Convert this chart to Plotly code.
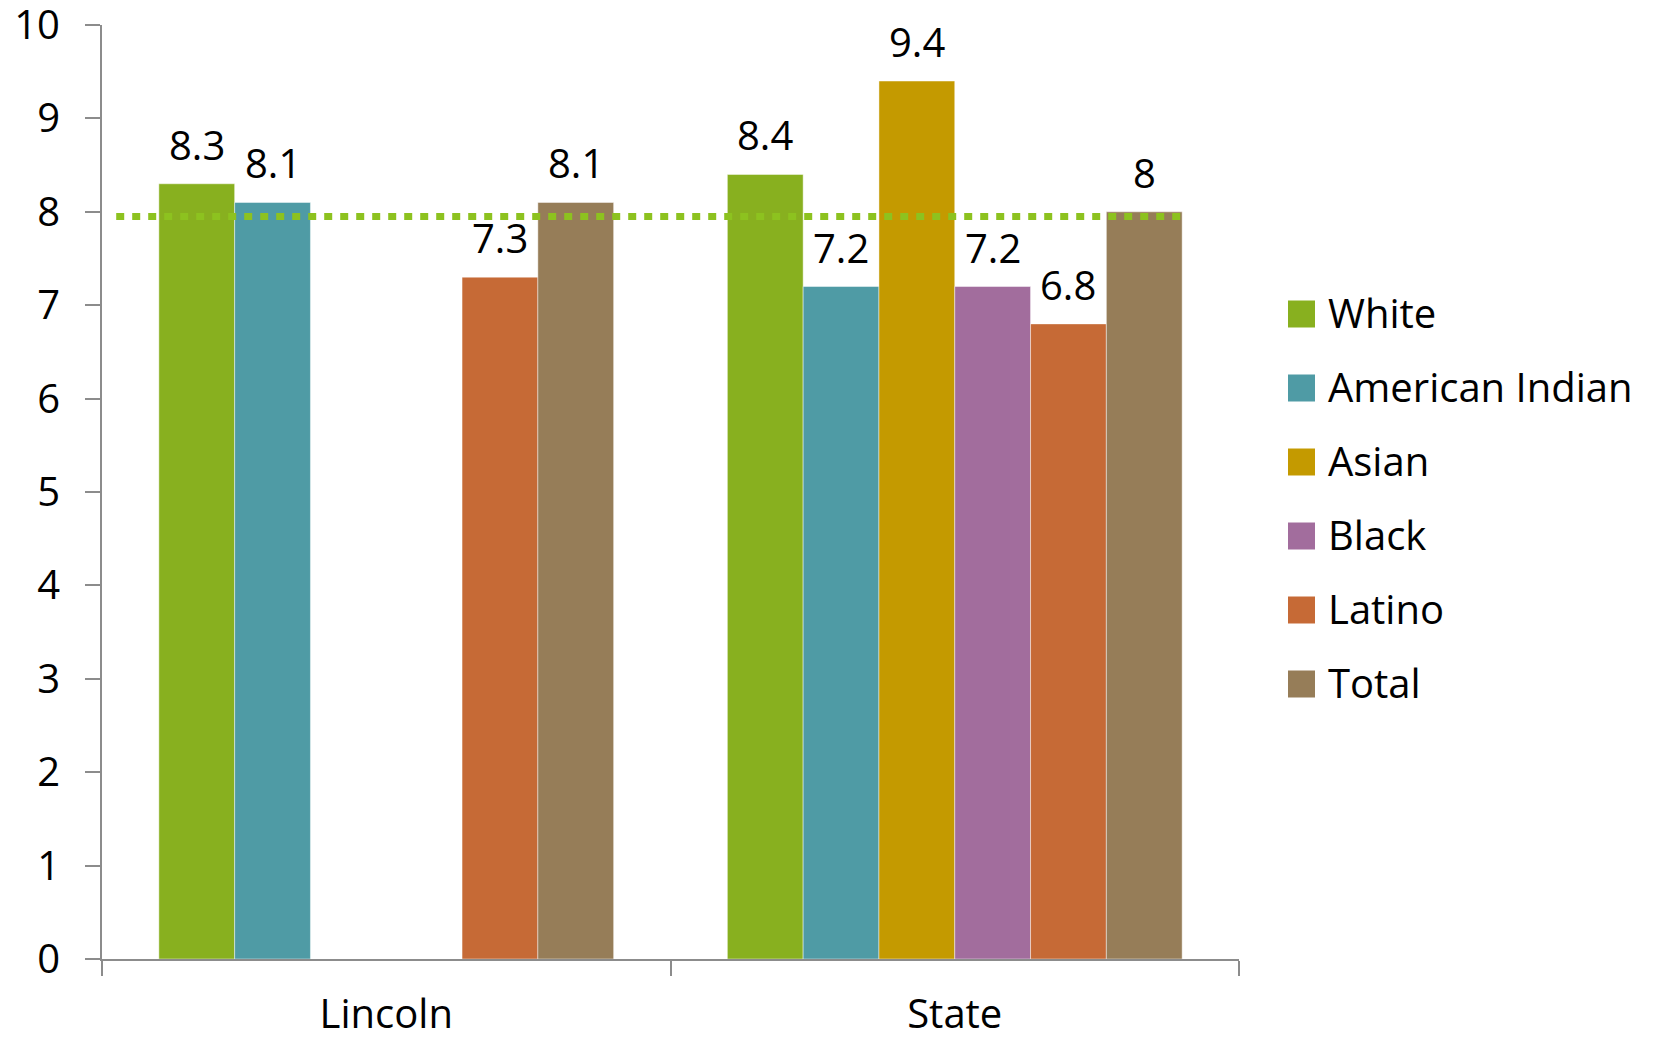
import plotly.graph_objects as go

# ---------------- data ----------------
categories = ["Lincoln", "State"]
series_names = ["White", "American Indian", "Asian", "Black", "Latino", "Total"]
white = [8.3, 8.4]
american_indian = [8.1, 7.2]
asian = [None, 9.4]
black = [None, 7.2]
latino = [7.3, 6.8]
total = [8.1, 8.0]
series_values = [white, american_indian, asian, black, latino, total]
benchmark_value = 7.95
y_tick_values = list(range(0, 11))

# ---------------- style ----------------
colors = ["#88B01F", "#4F9BA5", "#C49A00", "#A26D9D", "#C66A36", "#967D58"]
bench_color = "#8DC21F"
FONT = "Open Sans"
FS = 40
W, H = 1656, 1038
ML, MR, MT, MB = 102, 417, 25, 79
BARGAP = 0.2

fig = go.Figure()
for name, vals, col in zip(series_names, series_values, colors):
    fig.add_trace(go.Bar(
        name=name, x=categories, y=vals,
        marker=dict(color=col, line=dict(color="rgba(255,255,255,0.45)", width=1)),
        showlegend=False, hoverinfo="x+y+name",
    ))

# data labels above each bar (group offsets derived from bargap / trace count)
n = len(series_names)
bw = (1 - BARGAP) / n
annotations = []
for i, vals in enumerate(series_values):
    off = (i - (n - 1) / 2) * bw
    for ci, v in enumerate(vals):
        if v is None:
            continue
        annotations.append(dict(
            x=ci + off, y=v, xref="x", yref="y", text=f"{v:g}",
            showarrow=False, yanchor="bottom", xanchor="center", yshift=10,
            font=dict(family=FONT, size=FS, color="#000000"),
        ))

# benchmark dotted line
shapes = [dict(
    type="line", xref="x", yref="y",
    x0=-0.475, x1=1 + (1 - BARGAP) / 2, y0=benchmark_value, y1=benchmark_value,
    line=dict(color=bench_color, width=7, dash="8px,8px"),
    layer="above",
)]

# custom legend (large square swatches)
pw = W - ML - MR
ph = H - MT - MB
def px_x(px):
    return (px - ML) / pw
def px_y(py):
    return (H - MB - py) / ph

leg_top = 314
leg_step = 74
sw = 27
for k, (name, col) in enumerate(zip(series_names, colors)):
    cy = leg_top + k * leg_step
    shapes.append(dict(
        type="rect", xref="paper", yref="paper",
        x0=px_x(1288), x1=px_x(1288 + sw), y0=px_y(cy + sw / 2), y1=px_y(cy - sw / 2),
        fillcolor=col, line=dict(width=0),
    ))
    annotations.append(dict(
        x=px_x(1326), y=px_y(cy), xref="paper", yref="paper", text=name,
        showarrow=False, xanchor="left", yanchor="middle", yshift=2,
        font=dict(family=FONT, size=FS, color="#000000"),
    ))

fig.update_layout(
    width=W, height=H,
    margin=dict(l=ML, r=MR, t=MT, b=MB, pad=0, autoexpand=False),
    barmode="group", bargap=BARGAP, bargroupgap=0,
    paper_bgcolor="#FFFFFF", plot_bgcolor="#FFFFFF",
    font=dict(family=FONT, size=FS, color="#000000"),
    showlegend=False,
    annotations=annotations, shapes=shapes,
    xaxis=dict(
        type="category", range=[-0.5, 1.5], automargin=False,
        showline=True, linecolor="#8C8C8C", linewidth=2,
        ticks="outside", tickson="boundaries", ticklen=15, tickwidth=2, tickcolor="#8C8C8C",
        showgrid=False, zeroline=False,
        tickfont=dict(family=FONT, size=FS, color="#000000"),
        ticklabelstandoff=19, ticklabeloverflow="allow",
    ),
    yaxis=dict(
        range=[0, 10], tickvals=y_tick_values, automargin=False,
        showline=True, linecolor="#8C8C8C", linewidth=2,
        ticks="outside", ticklen=15, tickwidth=2, tickcolor="#8C8C8C",
        showgrid=False, zeroline=False,
        tickfont=dict(family=FONT, size=FS, color="#000000"),
        ticklabelstandoff=17, ticklabeloverflow="allow",
    ),
)

fig.write_html(
    "out.html",
    config={"displayModeBar": False},
    post_script="document.body.style.margin='0';document.body.style.overflow='hidden';",
)
